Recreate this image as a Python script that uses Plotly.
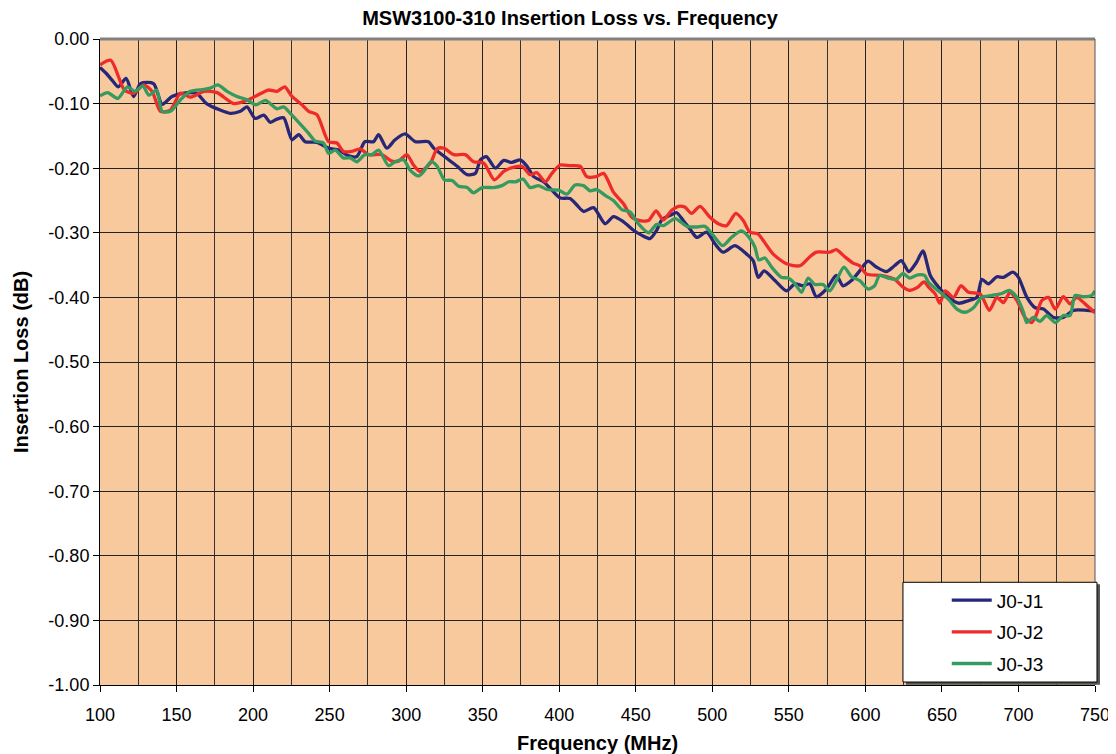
import plotly.graph_objects as go

title_text = "MSW3100-310 Insertion Loss vs. Frequency"
series_names = ["J0-J1", "J0-J2", "J0-J3"]

f_j1 = [100, 104, 108, 112, 117, 122, 126.5, 135, 140.6, 147, 154, 163, 169.6, 178.5, 185, 191.7, 196, 201.4,
        207, 211.3, 215.6, 220, 225.4, 229.8, 234, 241.7, 249.3, 256, 262.4, 267.8, 273, 278.7, 282, 287.4,
        292.8, 299.3, 306, 314.6, 318, 325, 333.3, 339.8, 345.2, 348.5, 352.4, 358.3, 363.7, 369, 374.6, 379,
        383.3, 389.8, 395.2, 400.6, 407, 411.5, 415.9, 422.4, 430, 435.4, 442, 448.5, 454, 459.3, 463.7,
        467, 472.4, 476.7, 481, 485.4, 489.8, 496.3, 501.7, 507, 514.8, 522.4, 526.7, 530, 533.9, 540.9,
        548.5, 554, 559.3, 563.7, 568, 574.6, 581, 585.4, 590.9, 596.3, 601.7, 607.2, 613.7, 619, 623.5,
        628.3, 633.3, 637.6, 642.4, 647.8, 654.3, 660.9, 667.4, 672.8, 676.1, 680.4, 685.9, 690.2, 696.3,
        700, 705.5, 710.9, 716.3, 722.8, 729.3, 735.9, 744.6, 750]
il_j1 = [-0.044, -0.053, -0.064, -0.074, -0.061, -0.089, -0.069, -0.069, -0.101, -0.089, -0.084, -0.084, -0.100,
         -0.110, -0.115, -0.112, -0.105, -0.123, -0.118, -0.129, -0.124, -0.122, -0.156, -0.148, -0.159, -0.160,
         -0.169, -0.172, -0.181, -0.182, -0.159, -0.159, -0.148, -0.169, -0.156, -0.147, -0.159, -0.159, -0.169,
         -0.182, -0.197, -0.210, -0.208, -0.187, -0.182, -0.200, -0.188, -0.191, -0.187, -0.197, -0.213, -0.221,
         -0.234, -0.246, -0.247, -0.257, -0.267, -0.261, -0.286, -0.275, -0.283, -0.296, -0.304, -0.309, -0.296,
         -0.280, -0.273, -0.269, -0.281, -0.294, -0.307, -0.299, -0.317, -0.330, -0.320, -0.333, -0.343, -0.369,
         -0.359, -0.374, -0.390, -0.379, -0.382, -0.379, -0.399, -0.387, -0.366, -0.382, -0.374, -0.359, -0.344,
         -0.353, -0.360, -0.351, -0.343, -0.360, -0.346, -0.328, -0.366, -0.384, -0.400, -0.409, -0.405, -0.400,
         -0.372, -0.379, -0.368, -0.369, -0.361, -0.369, -0.400, -0.416, -0.418, -0.431, -0.431, -0.420, -0.420,
         -0.421]

f_j2 = [100, 107, 116, 122, 128.6, 134, 139.5, 146, 152.6, 159, 168, 176.5, 187.4, 196, 203.7, 210, 215.6, 220.7,
        225.4, 232, 236.3, 241.7, 249.3, 254.8, 259, 264.6, 270, 275.4, 284, 290.6, 295, 300.4, 304.8, 309,
        315.9, 320.2, 324.6, 331, 338.7, 344, 350.7, 357.6, 363.7, 368, 375.6, 381, 385.4, 390.9, 395.2,
        400.6, 407, 413.7, 418, 424, 429, 435.4, 442, 447.4, 452.8, 458.3, 463.3, 468, 473.5, 477.8, 482,
        486.5, 492, 498.5, 503.9, 509.3, 515.4, 520.2, 524.6, 530, 533.3, 539.8, 548.5, 557.2, 563.7, 568,
        576.7, 581, 586.5, 592, 596.3, 600.7, 610.4, 619, 624.6, 628.9, 634.3, 638.3, 641.3, 645.7, 648.5,
        652.2, 657.6, 662.4, 667.4, 675, 681, 685.9, 690.2, 694.6, 699, 704.3, 708.7, 711.5, 715.2, 719.6,
        724, 729.3, 733.7, 738, 743.5, 750]
il_j2 = [-0.040, -0.033, -0.079, -0.084, -0.071, -0.081, -0.112, -0.110, -0.084, -0.090, -0.081, -0.083, -0.100,
         -0.095, -0.086, -0.079, -0.081, -0.074, -0.089, -0.102, -0.112, -0.117, -0.159, -0.161, -0.174, -0.174,
         -0.170, -0.179, -0.179, -0.189, -0.189, -0.179, -0.195, -0.205, -0.192, -0.170, -0.169, -0.179, -0.179,
         -0.190, -0.192, -0.218, -0.205, -0.200, -0.197, -0.210, -0.207, -0.221, -0.208, -0.195, -0.196, -0.197,
         -0.213, -0.213, -0.208, -0.237, -0.255, -0.276, -0.281, -0.281, -0.266, -0.280, -0.265, -0.259, -0.260,
         -0.270, -0.259, -0.276, -0.286, -0.289, -0.270, -0.281, -0.299, -0.302, -0.312, -0.333, -0.348, -0.351,
         -0.337, -0.330, -0.330, -0.326, -0.337, -0.347, -0.351, -0.364, -0.366, -0.372, -0.384, -0.389, -0.384,
         -0.376, -0.384, -0.395, -0.409, -0.390, -0.400, -0.382, -0.392, -0.395, -0.420, -0.400, -0.408, -0.392,
         -0.405, -0.431, -0.439, -0.428, -0.405, -0.400, -0.418, -0.399, -0.410, -0.400, -0.410, -0.424]

f_j3 = [100, 105, 111.6, 118, 122.7, 128, 132, 137, 140.6, 146, 152.6, 159, 168, 172, 177, 183, 189.5, 196, 202,
        208, 215.6, 220, 224.3, 229.8, 236.3, 240.6, 246, 249.3, 253.7, 259, 263.5, 267.8, 273, 277.6, 282,
        288.5, 292.8, 298.3, 302.6, 308, 311.5, 316.3, 320.2, 325, 330, 334.3, 339.8, 344, 349.6, 357.2,
        362.6, 367, 371.3, 376.4, 381, 386.5, 392, 399.6, 405, 410.4, 415.9, 420.2, 424.6, 430, 435.4, 440.9,
        446.3, 451.7, 458.3, 463.7, 468, 475.7, 483.3, 489.8, 495.2, 500.6, 506.7, 512.6, 519, 524, 527.8,
        530.4, 534.3, 538.7, 545.2, 549.6, 554, 558.3, 562.6, 567, 572.4, 576.7, 581, 586, 590.9, 596.3,
        601.7, 606, 609.3, 614.8, 620.2, 624.6, 628.9, 634.3, 638.7, 641.3, 647.8, 654.3, 659.8, 665.2,
        670.6, 676, 682.6, 689.1, 694, 699, 703.3, 705.4, 709.8, 714.1, 718.5, 724, 729.3, 733.7, 737, 742.4,
        747.8, 750]
il_j3 = [-0.088, -0.083, -0.092, -0.074, -0.081, -0.073, -0.087, -0.079, -0.112, -0.112, -0.094, -0.081, -0.078,
         -0.076, -0.071, -0.081, -0.089, -0.094, -0.102, -0.095, -0.108, -0.105, -0.115, -0.129, -0.146, -0.158,
         -0.161, -0.177, -0.172, -0.184, -0.184, -0.190, -0.179, -0.179, -0.172, -0.196, -0.190, -0.187, -0.203,
         -0.212, -0.205, -0.190, -0.197, -0.218, -0.219, -0.228, -0.230, -0.238, -0.230, -0.230, -0.227, -0.221,
         -0.221, -0.217, -0.230, -0.227, -0.233, -0.234, -0.240, -0.226, -0.227, -0.235, -0.233, -0.242, -0.250,
         -0.264, -0.268, -0.286, -0.300, -0.287, -0.289, -0.278, -0.290, -0.291, -0.290, -0.304, -0.320, -0.307,
         -0.297, -0.307, -0.322, -0.342, -0.339, -0.353, -0.369, -0.370, -0.379, -0.392, -0.370, -0.380, -0.380,
         -0.390, -0.374, -0.353, -0.368, -0.374, -0.387, -0.382, -0.366, -0.370, -0.372, -0.363, -0.370, -0.365,
         -0.366, -0.377, -0.390, -0.403, -0.418, -0.423, -0.416, -0.400, -0.397, -0.394, -0.389, -0.400, -0.423,
         -0.439, -0.431, -0.437, -0.428, -0.439, -0.428, -0.428, -0.397, -0.399, -0.397, -0.390]

x_ticks = [100, 150, 200, 250, 300, 350, 400, 450, 500, 550, 600, 650, 700, 750]
y_ticks = [0.0, -0.1, -0.2, -0.3, -0.4, -0.5, -0.6, -0.7, -0.8, -0.9, -1.0]
y_tick_text = ["0.00", "-0.10", "-0.20", "-0.30", "-0.40", "-0.50", "-0.60", "-0.70", "-0.80", "-0.90", "-1.00"]

colors = ["#27277A", "#EE2A2A", "#359A60"]
xs = [f_j1, f_j2, f_j3]
ys = [il_j1, il_j2, il_j3]

# the page body adds an 8px offset; figure size/margins compensate for it
W, H = 1108, 746
FONT = "Liberation Sans, Arial, sans-serif"
fig = go.Figure()
for name, x, y, c in zip(series_names, xs, ys, colors):
    fig.add_trace(go.Scatter(x=x, y=y, name=name, mode="lines", legendgroup=name,
                             line=dict(color=c, width=3.3, shape="spline", smoothing=0.7)))

fig.update_layout(
    width=W, height=H,
    margin=dict(l=92, r=21, t=31, b=69, autoexpand=False),
    paper_bgcolor="white", plot_bgcolor="#F8C99C",
    font=dict(family=FONT, size=18, color="black"),
    title=dict(text="<b>" + title_text + "</b>", x=(570 - 8) / W, xref="container", xanchor="center",
               y=1 - 10 / H, yref="container", yanchor="middle", font=dict(size=20)),
    showlegend=True,
    legend=dict(x=0.851, xanchor="left", y=0.0027, yanchor="bottom", bgcolor="rgba(0,0,0,0)",
                borderwidth=0, font=dict(size=19), tracegroupgap=4, itemwidth=40),
)
fig.update_xaxes(range=[100, 750], tickvals=x_ticks, ticks="outside", ticklen=6, tickcolor="black",
                 showline=True, linecolor="black", linewidth=1, showgrid=True, gridcolor="#222222",
                 gridwidth=1, minor=dict(dtick=25, tick0=100, showgrid=True, gridcolor="#333333", gridwidth=1),
                 zeroline=False, tickfont=dict(size=18), ticklabelstandoff=7, ticklabeloverflow="allow",
                 title=dict(text="<b>Frequency (MHz)</b>", font=dict(size=20), standoff=13))
fig.update_yaxes(range=[-1.0, 0.0], tickvals=y_ticks, ticktext=y_tick_text, ticks="outside", ticklen=6,
                 tickcolor="black", showline=True, linecolor="black", linewidth=1, showgrid=True,
                 gridcolor="#222222", gridwidth=1, zeroline=False, tickfont=dict(size=18),
                 title=dict(text="<b>Insertion Loss (dB)</b>", font=dict(size=20), standoff=14))

# plot area frame (gray top/right like the original)
fig.add_shape(type="line", xref="paper", yref="paper", x0=0, x1=1, y0=1, y1=1,
              line=dict(color="#808080", width=3))
fig.add_shape(type="line", xref="paper", yref="paper", x0=1, x1=1, y0=0, y1=1,
              line=dict(color="#555555", width=1))
# legend box with shadow
fig.add_shape(type="rect", xref="paper", yref="paper", x0=0.810, x1=1.005, y0=0.0005, y1=0.156,
              fillcolor="#555555", line=dict(width=0), layer="above")
fig.add_shape(type="rect", xref="paper", yref="paper", x0=0.807, x1=1.002, y0=0.0046, y1=0.159,
              fillcolor="white", line=dict(color="black", width=1), layer="above")

fig.write_html("out.html")
